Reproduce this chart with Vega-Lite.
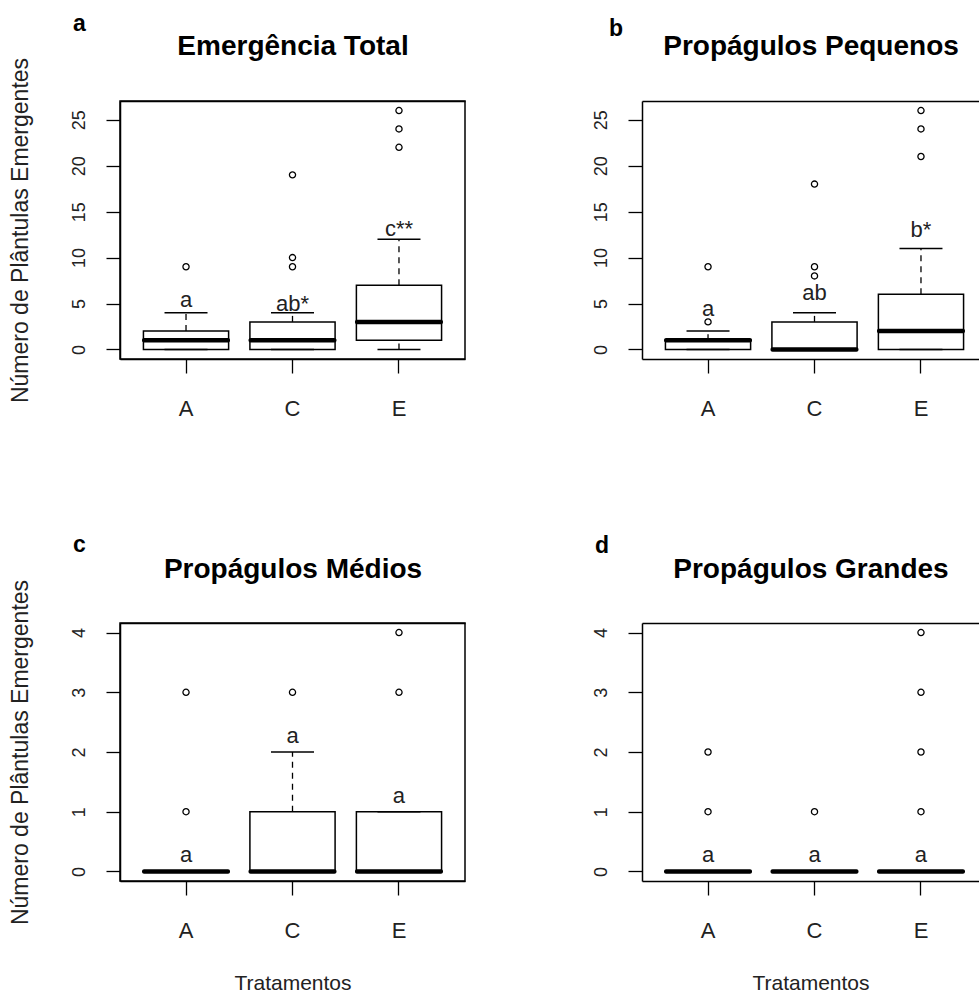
{
"$schema": "https://vega.github.io/schema/vega-lite/v6.json",
"background": "white",
"padding": {"left": 8, "top": 12, "right": 0, "bottom": 0},
"config": {"font": "Liberation Sans", "view": {"stroke": "black", "strokeWidth": 1.5}, "axis": {"grid": false}},
"datasets": {
 "stats": [
  {"p": "a", "t": "A", "lo": 0, "q1": 0, "med": 1, "q3": 2, "hi": 4},
  {"p": "a", "t": "C", "lo": 0, "q1": 0, "med": 1, "q3": 3, "hi": 4},
  {"p": "a", "t": "E", "lo": 0, "q1": 1, "med": 3, "q3": 7, "hi": 12},
  {"p": "b", "t": "A", "lo": 0, "q1": 0, "med": 1, "q3": 1, "hi": 2},
  {"p": "b", "t": "C", "lo": 0, "q1": 0, "med": 0, "q3": 3, "hi": 4},
  {"p": "b", "t": "E", "lo": 0, "q1": 0, "med": 2, "q3": 6, "hi": 11},
  {"p": "c", "t": "A", "lo": 0, "q1": 0, "med": 0, "q3": 0, "hi": 0},
  {"p": "c", "t": "C", "lo": 0, "q1": 0, "med": 0, "q3": 1, "hi": 2},
  {"p": "c", "t": "E", "lo": 0, "q1": 0, "med": 0, "q3": 1, "hi": 1},
  {"p": "d", "t": "A", "lo": 0, "q1": 0, "med": 0, "q3": 0, "hi": 0},
  {"p": "d", "t": "C", "lo": 0, "q1": 0, "med": 0, "q3": 0, "hi": 0},
  {"p": "d", "t": "E", "lo": 0, "q1": 0, "med": 0, "q3": 0, "hi": 0}
 ],
 "out": [
  {"p": "a", "t": "A", "v": 9},
  {"p": "a", "t": "C", "v": 9}, {"p": "a", "t": "C", "v": 10}, {"p": "a", "t": "C", "v": 19},
  {"p": "a", "t": "E", "v": 22}, {"p": "a", "t": "E", "v": 24}, {"p": "a", "t": "E", "v": 26},
  {"p": "b", "t": "A", "v": 3}, {"p": "b", "t": "A", "v": 9},
  {"p": "b", "t": "C", "v": 8}, {"p": "b", "t": "C", "v": 9}, {"p": "b", "t": "C", "v": 18},
  {"p": "b", "t": "E", "v": 21}, {"p": "b", "t": "E", "v": 24}, {"p": "b", "t": "E", "v": 26},
  {"p": "c", "t": "A", "v": 1}, {"p": "c", "t": "A", "v": 3},
  {"p": "c", "t": "C", "v": 3},
  {"p": "c", "t": "E", "v": 3}, {"p": "c", "t": "E", "v": 4},
  {"p": "d", "t": "A", "v": 1}, {"p": "d", "t": "A", "v": 2},
  {"p": "d", "t": "C", "v": 1},
  {"p": "d", "t": "E", "v": 1}, {"p": "d", "t": "E", "v": 2}, {"p": "d", "t": "E", "v": 3}, {"p": "d", "t": "E", "v": 4}
 ],
 "lab": [
  {"p": "a", "t": "A", "lab": "a", "v": 5.35},
  {"p": "a", "t": "C", "lab": "ab*", "v": 4.9},
  {"p": "a", "t": "E", "lab": "c**", "v": 13.1},
  {"p": "b", "t": "A", "lab": "a", "v": 4.4},
  {"p": "b", "t": "C", "lab": "ab", "v": 6.1},
  {"p": "b", "t": "E", "lab": "b*", "v": 13.0},
  {"p": "c", "t": "A", "lab": "a", "v": 0.27},
  {"p": "c", "t": "C", "lab": "a", "v": 2.26},
  {"p": "c", "t": "E", "lab": "a", "v": 1.27},
  {"p": "d", "t": "A", "lab": "a", "v": 0.27},
  {"p": "d", "t": "C", "lab": "a", "v": 0.27},
  {"p": "d", "t": "E", "lab": "a", "v": 0.27}
 ]
},
"bounds": "flush",
"spacing": 522,
"vconcat": [
 {"bounds": "flush", "spacing": 177, "hconcat": [
  {"width": 345, "height": 258,
   "title": {"text": "a", "anchor": "start", "frame": "group", "dx": -47, "fontSize": 23, "fontWeight": "bold", "color": "black", "baseline": "alphabetic", "offset": -22},
   "resolve": {"axis": {"x": "independent"}},
   "layer": [
    {"data": {"name": "stats"}, "transform": [{"filter": "datum.p == 'a'"}],
     "mark": {"type": "rule", "color": "black", "strokeWidth": 1.3, "strokeDash": [6, 5]},
     "encoding": {
      "x": {"field": "t", "type": "nominal", "scale": {"type": "band", "domain": ["A", "C", "E"], "paddingInner": 0.2, "paddingOuter": 0.22},
            "axis": {"orient": "bottom", "title": null, "labelAngle": 0, "labelFontSize": 22, "labelColor": "#222", "labelBaseline": "alphabetic", "labelPadding": 42, "tickSize": 14, "tickWidth": 1.3, "tickColor": "black", "domainColor": "black", "domainWidth": 1.5}},
      "y": {"field": "q3", "type": "quantitative", "scale": {"domain": [-1.04, 27.04], "nice": false, "zero": false},
            "axis": {"values": [0, 5, 10, 15, 20, 25], "format": "d", "labelAngle": 270, "labelAlign": "center", "labelBaseline": "alphabetic", "labelPadding": 22, "labelFontSize": 18, "labelColor": "#222", "tickSize": 14, "tickWidth": 1.3, "tickColor": "black", "domainColor": "black", "domainWidth": 1.5, "title": "Número de Plântulas Emergentes", "titleFontSize": 23, "titleFontWeight": "normal", "titleColor": "#222", "titlePadding": 43, "titleBaseline": "alphabetic"}},
      "y2": {"field": "hi"}}},
    {"data": {"name": "stats"}, "transform": [{"filter": "datum.p == 'a'"}],
     "mark": {"type": "rule", "color": "black", "strokeWidth": 1.3, "strokeDash": [6, 5]},
     "encoding": {
      "x": {"field": "t", "type": "nominal", "scale": {"type": "band", "domain": ["A", "C", "E"], "paddingInner": 0.2, "paddingOuter": 0.22}, "axis": null},
      "y": {"field": "lo", "type": "quantitative", "scale": {"domain": [-1.04, 27.04], "nice": false, "zero": false}},
      "y2": {"field": "q1"}}},
    {"data": {"name": "stats"}, "transform": [{"filter": "datum.p == 'a'"}],
     "mark": {"type": "bar", "fill": "white", "stroke": "black", "strokeWidth": 1.5},
     "encoding": {
      "x": {"field": "t", "type": "nominal", "scale": {"type": "band", "domain": ["A", "C", "E"], "paddingInner": 0.2, "paddingOuter": 0.22}, "axis": null},
      "y": {"field": "q1", "type": "quantitative", "scale": {"domain": [-1.04, 27.04], "nice": false, "zero": false}},
      "y2": {"field": "q3"}}},
    {"data": {"name": "stats"}, "transform": [{"filter": "datum.p == 'a'"}],
     "mark": {"type": "tick", "color": "black", "size": 43, "thickness": 1.5, "opacity": 1},
     "encoding": {
      "x": {"field": "t", "type": "nominal", "scale": {"type": "band", "domain": ["A", "C", "E"], "paddingInner": 0.2, "paddingOuter": 0.22}, "axis": null},
      "y": {"field": "hi", "type": "quantitative", "scale": {"domain": [-1.04, 27.04], "nice": false, "zero": false}}}},
    {"data": {"name": "stats"}, "transform": [{"filter": "datum.p == 'a'"}],
     "mark": {"type": "tick", "color": "black", "size": 43, "thickness": 1.5, "opacity": 1},
     "encoding": {
      "x": {"field": "t", "type": "nominal", "scale": {"type": "band", "domain": ["A", "C", "E"], "paddingInner": 0.2, "paddingOuter": 0.22}, "axis": null},
      "y": {"field": "lo", "type": "quantitative", "scale": {"domain": [-1.04, 27.04], "nice": false, "zero": false}}}},
    {"data": {"name": "stats"}, "transform": [{"filter": "datum.p == 'a'"}],
     "mark": {"type": "tick", "color": "black", "size": 88, "thickness": 4.5, "cornerRadius": 2, "opacity": 1},
     "encoding": {
      "x": {"field": "t", "type": "nominal", "scale": {"type": "band", "domain": ["A", "C", "E"], "paddingInner": 0.2, "paddingOuter": 0.22}, "axis": null},
      "y": {"field": "med", "type": "quantitative", "scale": {"domain": [-1.04, 27.04], "nice": false, "zero": false}}}},
    {"data": {"name": "out"}, "transform": [{"filter": "datum.p == 'a'"}],
     "mark": {"type": "point", "shape": "circle", "filled": false, "size": 38, "stroke": "black", "strokeWidth": 1.3, "opacity": 1},
     "encoding": {
      "x": {"field": "t", "type": "nominal", "scale": {"type": "band", "domain": ["A", "C", "E"], "paddingInner": 0.2, "paddingOuter": 0.22},
            "axis": {"orient": "top", "title": "Emergência Total", "labels": false, "ticks": false, "domainColor": "black", "domainWidth": 1.5, "titleFontSize": 28, "titleFontWeight": "bold", "titleColor": "black", "titlePadding": 47, "titleBaseline": "alphabetic"}},
      "y": {"field": "v", "type": "quantitative", "scale": {"domain": [-1.04, 27.04], "nice": false, "zero": false}}}},
    {"data": {"name": "lab"}, "transform": [{"filter": "datum.p == 'a'"}],
     "mark": {"type": "text", "fontSize": 22, "color": "#222", "baseline": "middle"},
     "encoding": {
      "x": {"field": "t", "type": "nominal", "scale": {"type": "band", "domain": ["A", "C", "E"], "paddingInner": 0.2, "paddingOuter": 0.22}, "axis": null},
      "y": {"field": "v", "type": "quantitative", "scale": {"domain": [-1.04, 27.04], "nice": false, "zero": false}},
      "text": {"field": "lab"}}}
   ]},
  {"width": 337, "height": 258,
   "view": {"stroke": null},
   "title": {"text": "b", "anchor": "start", "frame": "group", "dx": -33, "fontSize": 23, "fontWeight": "bold", "color": "black", "baseline": "alphabetic", "offset": -27},
   "resolve": {"axis": {"x": "independent"}},
   "layer": [
    {"data": {"name": "stats"}, "transform": [{"filter": "datum.p == 'b'"}],
     "mark": {"type": "rule", "color": "black", "strokeWidth": 1.3, "strokeDash": [6, 5]},
     "encoding": {
      "x": {"field": "t", "type": "nominal", "scale": {"type": "band", "domain": ["A", "C", "E"], "paddingInner": 0.2, "paddingOuter": 0.1825, "align": 0.603},
            "axis": {"orient": "bottom", "title": null, "labelAngle": 0, "labelFontSize": 22, "labelColor": "#222", "labelBaseline": "alphabetic", "labelPadding": 42, "tickSize": 14, "tickWidth": 1.3, "tickColor": "black", "domainColor": "black", "domainWidth": 1.5}},
      "y": {"field": "q3", "type": "quantitative", "scale": {"domain": [-1.04, 27.04], "nice": false, "zero": false},
            "axis": {"values": [0, 5, 10, 15, 20, 25], "format": "d", "labelAngle": 270, "labelAlign": "center", "labelBaseline": "alphabetic", "labelPadding": 22, "labelFontSize": 18, "labelColor": "#222", "tickSize": 14, "tickWidth": 1.3, "tickColor": "black", "domainColor": "black", "domainWidth": 1.5, "title": null}},
      "y2": {"field": "hi"}}},
    {"data": {"name": "stats"}, "transform": [{"filter": "datum.p == 'b'"}],
     "mark": {"type": "rule", "color": "black", "strokeWidth": 1.3, "strokeDash": [6, 5]},
     "encoding": {
      "x": {"field": "t", "type": "nominal", "scale": {"type": "band", "domain": ["A", "C", "E"], "paddingInner": 0.2, "paddingOuter": 0.1825, "align": 0.603}, "axis": null},
      "y": {"field": "lo", "type": "quantitative", "scale": {"domain": [-1.04, 27.04], "nice": false, "zero": false}},
      "y2": {"field": "q1"}}},
    {"data": {"name": "stats"}, "transform": [{"filter": "datum.p == 'b'"}],
     "mark": {"type": "bar", "fill": "white", "stroke": "black", "strokeWidth": 1.5},
     "encoding": {
      "x": {"field": "t", "type": "nominal", "scale": {"type": "band", "domain": ["A", "C", "E"], "paddingInner": 0.2, "paddingOuter": 0.1825, "align": 0.603}, "axis": null},
      "y": {"field": "q1", "type": "quantitative", "scale": {"domain": [-1.04, 27.04], "nice": false, "zero": false}},
      "y2": {"field": "q3"}}},
    {"data": {"name": "stats"}, "transform": [{"filter": "datum.p == 'b'"}],
     "mark": {"type": "tick", "color": "black", "size": 43, "thickness": 1.5, "opacity": 1},
     "encoding": {
      "x": {"field": "t", "type": "nominal", "scale": {"type": "band", "domain": ["A", "C", "E"], "paddingInner": 0.2, "paddingOuter": 0.1825, "align": 0.603}, "axis": null},
      "y": {"field": "hi", "type": "quantitative", "scale": {"domain": [-1.04, 27.04], "nice": false, "zero": false}}}},
    {"data": {"name": "stats"}, "transform": [{"filter": "datum.p == 'b'"}],
     "mark": {"type": "tick", "color": "black", "size": 43, "thickness": 1.5, "opacity": 1},
     "encoding": {
      "x": {"field": "t", "type": "nominal", "scale": {"type": "band", "domain": ["A", "C", "E"], "paddingInner": 0.2, "paddingOuter": 0.1825, "align": 0.603}, "axis": null},
      "y": {"field": "lo", "type": "quantitative", "scale": {"domain": [-1.04, 27.04], "nice": false, "zero": false}}}},
    {"data": {"name": "stats"}, "transform": [{"filter": "datum.p == 'b'"}],
     "mark": {"type": "tick", "color": "black", "size": 88, "thickness": 4.5, "cornerRadius": 2, "opacity": 1},
     "encoding": {
      "x": {"field": "t", "type": "nominal", "scale": {"type": "band", "domain": ["A", "C", "E"], "paddingInner": 0.2, "paddingOuter": 0.1825, "align": 0.603}, "axis": null},
      "y": {"field": "med", "type": "quantitative", "scale": {"domain": [-1.04, 27.04], "nice": false, "zero": false}}}},
    {"data": {"name": "out"}, "transform": [{"filter": "datum.p == 'b'"}],
     "mark": {"type": "point", "shape": "circle", "filled": false, "size": 38, "stroke": "black", "strokeWidth": 1.3, "opacity": 1},
     "encoding": {
      "x": {"field": "t", "type": "nominal", "scale": {"type": "band", "domain": ["A", "C", "E"], "paddingInner": 0.2, "paddingOuter": 0.1825, "align": 0.603},
            "axis": {"orient": "top", "title": "Propágulos Pequenos", "labels": false, "ticks": false, "domainColor": "black", "domainWidth": 1.5, "titleFontSize": 28, "titleFontWeight": "bold", "titleColor": "black", "titlePadding": 47, "titleBaseline": "alphabetic"}},
      "y": {"field": "v", "type": "quantitative", "scale": {"domain": [-1.04, 27.04], "nice": false, "zero": false}}}},
    {"data": {"name": "lab"}, "transform": [{"filter": "datum.p == 'b'"}],
     "mark": {"type": "text", "fontSize": 22, "color": "#222", "baseline": "middle"},
     "encoding": {
      "x": {"field": "t", "type": "nominal", "scale": {"type": "band", "domain": ["A", "C", "E"], "paddingInner": 0.2, "paddingOuter": 0.1825, "align": 0.603}, "axis": null},
      "y": {"field": "v", "type": "quantitative", "scale": {"domain": [-1.04, 27.04], "nice": false, "zero": false}},
      "text": {"field": "lab"}}}
   ]}
 ]},
 {"bounds": "flush", "spacing": 177, "hconcat": [
  {"width": 345, "height": 258,
   "title": {"text": "c", "anchor": "start", "frame": "group", "dx": -47, "fontSize": 23, "fontWeight": "bold", "color": "black", "baseline": "alphabetic", "offset": -20},
   "resolve": {"axis": {"x": "independent"}},
   "layer": [
    {"data": {"name": "stats"}, "transform": [{"filter": "datum.p == 'c'"}],
     "mark": {"type": "rule", "color": "black", "strokeWidth": 1.3, "strokeDash": [6, 5]},
     "encoding": {
      "x": {"field": "t", "type": "nominal", "scale": {"type": "band", "domain": ["A", "C", "E"], "paddingInner": 0.2, "paddingOuter": 0.22},
            "axis": {"orient": "bottom", "title": "Tratamentos", "titleFontSize": 21, "titleFontWeight": "normal", "titleColor": "#222", "titlePadding": 48, "titleBaseline": "alphabetic", "labelAngle": 0, "labelFontSize": 22, "labelColor": "#222", "labelBaseline": "alphabetic", "labelPadding": 42, "tickSize": 14, "tickWidth": 1.3, "tickColor": "black", "domainColor": "black", "domainWidth": 1.5}},
      "y": {"field": "q3", "type": "quantitative", "scale": {"domain": [-0.16, 4.16], "nice": false, "zero": false},
            "axis": {"values": [0, 1, 2, 3, 4], "format": "d", "labelAngle": 270, "labelAlign": "center", "labelBaseline": "alphabetic", "labelPadding": 22, "labelFontSize": 18, "labelColor": "#222", "tickSize": 14, "tickWidth": 1.3, "tickColor": "black", "domainColor": "black", "domainWidth": 1.5, "title": "Número de Plântulas Emergentes", "titleFontSize": 23, "titleFontWeight": "normal", "titleColor": "#222", "titlePadding": 43, "titleBaseline": "alphabetic"}},
      "y2": {"field": "hi"}}},
    {"data": {"name": "stats"}, "transform": [{"filter": "datum.p == 'c'"}],
     "mark": {"type": "rule", "color": "black", "strokeWidth": 1.3, "strokeDash": [6, 5]},
     "encoding": {
      "x": {"field": "t", "type": "nominal", "scale": {"type": "band", "domain": ["A", "C", "E"], "paddingInner": 0.2, "paddingOuter": 0.22}, "axis": null},
      "y": {"field": "lo", "type": "quantitative", "scale": {"domain": [-0.16, 4.16], "nice": false, "zero": false}},
      "y2": {"field": "q1"}}},
    {"data": {"name": "stats"}, "transform": [{"filter": "datum.p == 'c'"}],
     "mark": {"type": "bar", "fill": "white", "stroke": "black", "strokeWidth": 1.5},
     "encoding": {
      "x": {"field": "t", "type": "nominal", "scale": {"type": "band", "domain": ["A", "C", "E"], "paddingInner": 0.2, "paddingOuter": 0.22}, "axis": null},
      "y": {"field": "q1", "type": "quantitative", "scale": {"domain": [-0.16, 4.16], "nice": false, "zero": false}},
      "y2": {"field": "q3"}}},
    {"data": {"name": "stats"}, "transform": [{"filter": "datum.p == 'c'"}],
     "mark": {"type": "tick", "color": "black", "size": 43, "thickness": 1.5, "opacity": 1},
     "encoding": {
      "x": {"field": "t", "type": "nominal", "scale": {"type": "band", "domain": ["A", "C", "E"], "paddingInner": 0.2, "paddingOuter": 0.22}, "axis": null},
      "y": {"field": "hi", "type": "quantitative", "scale": {"domain": [-0.16, 4.16], "nice": false, "zero": false}}}},
    {"data": {"name": "stats"}, "transform": [{"filter": "datum.p == 'c'"}],
     "mark": {"type": "tick", "color": "black", "size": 43, "thickness": 1.5, "opacity": 1},
     "encoding": {
      "x": {"field": "t", "type": "nominal", "scale": {"type": "band", "domain": ["A", "C", "E"], "paddingInner": 0.2, "paddingOuter": 0.22}, "axis": null},
      "y": {"field": "lo", "type": "quantitative", "scale": {"domain": [-0.16, 4.16], "nice": false, "zero": false}}}},
    {"data": {"name": "stats"}, "transform": [{"filter": "datum.p == 'c'"}],
     "mark": {"type": "tick", "color": "black", "size": 88, "thickness": 4.5, "cornerRadius": 2, "opacity": 1},
     "encoding": {
      "x": {"field": "t", "type": "nominal", "scale": {"type": "band", "domain": ["A", "C", "E"], "paddingInner": 0.2, "paddingOuter": 0.22}, "axis": null},
      "y": {"field": "med", "type": "quantitative", "scale": {"domain": [-0.16, 4.16], "nice": false, "zero": false}}}},
    {"data": {"name": "out"}, "transform": [{"filter": "datum.p == 'c'"}],
     "mark": {"type": "point", "shape": "circle", "filled": false, "size": 38, "stroke": "black", "strokeWidth": 1.3, "opacity": 1},
     "encoding": {
      "x": {"field": "t", "type": "nominal", "scale": {"type": "band", "domain": ["A", "C", "E"], "paddingInner": 0.2, "paddingOuter": 0.22},
            "axis": {"orient": "top", "title": "Propágulos Médios", "labels": false, "ticks": false, "domainColor": "black", "domainWidth": 1.5, "titleFontSize": 28, "titleFontWeight": "bold", "titleColor": "black", "titlePadding": 46, "titleBaseline": "alphabetic"}},
      "y": {"field": "v", "type": "quantitative", "scale": {"domain": [-0.16, 4.16], "nice": false, "zero": false}}}},
    {"data": {"name": "lab"}, "transform": [{"filter": "datum.p == 'c'"}],
     "mark": {"type": "text", "fontSize": 22, "color": "#222", "baseline": "middle"},
     "encoding": {
      "x": {"field": "t", "type": "nominal", "scale": {"type": "band", "domain": ["A", "C", "E"], "paddingInner": 0.2, "paddingOuter": 0.22}, "axis": null},
      "y": {"field": "v", "type": "quantitative", "scale": {"domain": [-0.16, 4.16], "nice": false, "zero": false}},
      "text": {"field": "lab"}}}
   ]},
  {"width": 337, "height": 258,
   "view": {"stroke": null},
   "title": {"text": "d", "anchor": "start", "frame": "group", "dx": -47, "fontSize": 23, "fontWeight": "bold", "color": "black", "baseline": "alphabetic", "offset": -21},
   "resolve": {"axis": {"x": "independent"}},
   "layer": [
    {"data": {"name": "stats"}, "transform": [{"filter": "datum.p == 'd'"}],
     "mark": {"type": "rule", "color": "black", "strokeWidth": 1.3, "strokeDash": [6, 5]},
     "encoding": {
      "x": {"field": "t", "type": "nominal", "scale": {"type": "band", "domain": ["A", "C", "E"], "paddingInner": 0.2, "paddingOuter": 0.1825, "align": 0.603},
            "axis": {"orient": "bottom", "title": "Tratamentos", "titleFontSize": 21, "titleFontWeight": "normal", "titleColor": "#222", "titlePadding": 48, "titleBaseline": "alphabetic", "labelAngle": 0, "labelFontSize": 22, "labelColor": "#222", "labelBaseline": "alphabetic", "labelPadding": 42, "tickSize": 14, "tickWidth": 1.3, "tickColor": "black", "domainColor": "black", "domainWidth": 1.5}},
      "y": {"field": "q3", "type": "quantitative", "scale": {"domain": [-0.16, 4.16], "nice": false, "zero": false},
            "axis": {"values": [0, 1, 2, 3, 4], "format": "d", "labelAngle": 270, "labelAlign": "center", "labelBaseline": "alphabetic", "labelPadding": 22, "labelFontSize": 18, "labelColor": "#222", "tickSize": 14, "tickWidth": 1.3, "tickColor": "black", "domainColor": "black", "domainWidth": 1.5, "title": null}},
      "y2": {"field": "hi"}}},
    {"data": {"name": "stats"}, "transform": [{"filter": "datum.p == 'd'"}],
     "mark": {"type": "rule", "color": "black", "strokeWidth": 1.3, "strokeDash": [6, 5]},
     "encoding": {
      "x": {"field": "t", "type": "nominal", "scale": {"type": "band", "domain": ["A", "C", "E"], "paddingInner": 0.2, "paddingOuter": 0.1825, "align": 0.603}, "axis": null},
      "y": {"field": "lo", "type": "quantitative", "scale": {"domain": [-0.16, 4.16], "nice": false, "zero": false}},
      "y2": {"field": "q1"}}},
    {"data": {"name": "stats"}, "transform": [{"filter": "datum.p == 'd'"}],
     "mark": {"type": "bar", "fill": "white", "stroke": "black", "strokeWidth": 1.5},
     "encoding": {
      "x": {"field": "t", "type": "nominal", "scale": {"type": "band", "domain": ["A", "C", "E"], "paddingInner": 0.2, "paddingOuter": 0.1825, "align": 0.603}, "axis": null},
      "y": {"field": "q1", "type": "quantitative", "scale": {"domain": [-0.16, 4.16], "nice": false, "zero": false}},
      "y2": {"field": "q3"}}},
    {"data": {"name": "stats"}, "transform": [{"filter": "datum.p == 'd'"}],
     "mark": {"type": "tick", "color": "black", "size": 43, "thickness": 1.5, "opacity": 1},
     "encoding": {
      "x": {"field": "t", "type": "nominal", "scale": {"type": "band", "domain": ["A", "C", "E"], "paddingInner": 0.2, "paddingOuter": 0.1825, "align": 0.603}, "axis": null},
      "y": {"field": "hi", "type": "quantitative", "scale": {"domain": [-0.16, 4.16], "nice": false, "zero": false}}}},
    {"data": {"name": "stats"}, "transform": [{"filter": "datum.p == 'd'"}],
     "mark": {"type": "tick", "color": "black", "size": 88, "thickness": 4.5, "cornerRadius": 2, "opacity": 1},
     "encoding": {
      "x": {"field": "t", "type": "nominal", "scale": {"type": "band", "domain": ["A", "C", "E"], "paddingInner": 0.2, "paddingOuter": 0.1825, "align": 0.603}, "axis": null},
      "y": {"field": "med", "type": "quantitative", "scale": {"domain": [-0.16, 4.16], "nice": false, "zero": false}}}},
    {"data": {"name": "out"}, "transform": [{"filter": "datum.p == 'd'"}],
     "mark": {"type": "point", "shape": "circle", "filled": false, "size": 38, "stroke": "black", "strokeWidth": 1.3, "opacity": 1},
     "encoding": {
      "x": {"field": "t", "type": "nominal", "scale": {"type": "band", "domain": ["A", "C", "E"], "paddingInner": 0.2, "paddingOuter": 0.1825, "align": 0.603},
            "axis": {"orient": "top", "title": "Propágulos Grandes", "labels": false, "ticks": false, "domainColor": "black", "domainWidth": 1.5, "titleFontSize": 28, "titleFontWeight": "bold", "titleColor": "black", "titlePadding": 46, "titleBaseline": "alphabetic"}},
      "y": {"field": "v", "type": "quantitative", "scale": {"domain": [-0.16, 4.16], "nice": false, "zero": false}}}},
    {"data": {"name": "lab"}, "transform": [{"filter": "datum.p == 'd'"}],
     "mark": {"type": "text", "fontSize": 22, "color": "#222", "baseline": "middle"},
     "encoding": {
      "x": {"field": "t", "type": "nominal", "scale": {"type": "band", "domain": ["A", "C", "E"], "paddingInner": 0.2, "paddingOuter": 0.1825, "align": 0.603}, "axis": null},
      "y": {"field": "v", "type": "quantitative", "scale": {"domain": [-0.16, 4.16], "nice": false, "zero": false}},
      "text": {"field": "lab"}}}
   ]}
 ]}
]
}
